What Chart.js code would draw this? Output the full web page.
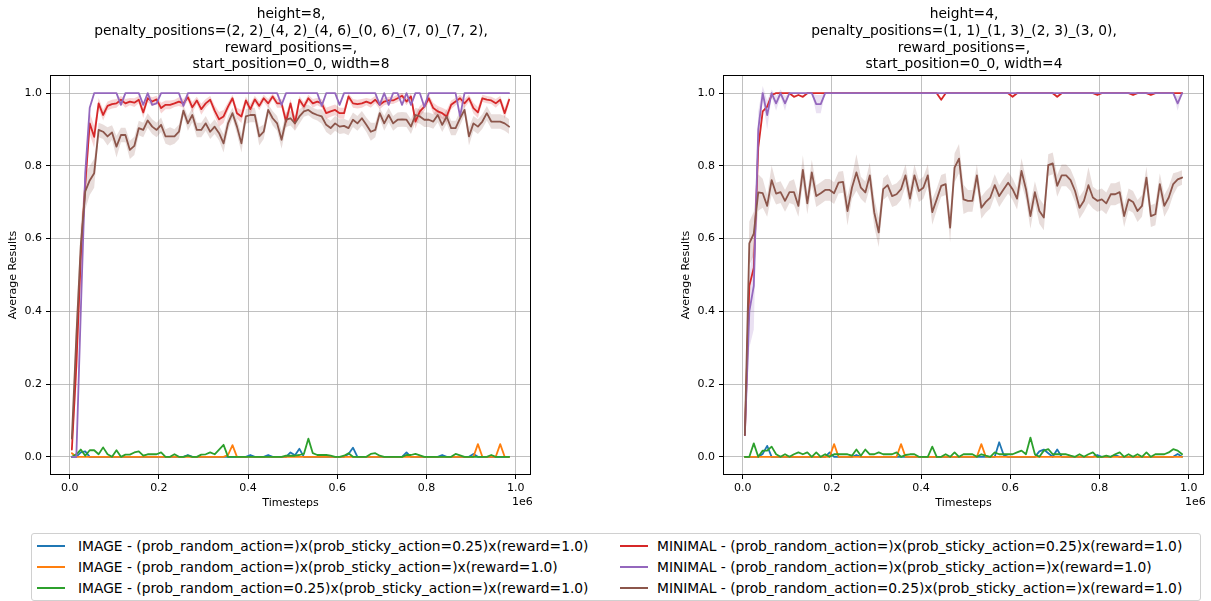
<!DOCTYPE html>
<html><head><meta charset="utf-8">
<script src="https://cdn.jsdelivr.net/npm/chart.js@4.4.1/dist/chart.umd.min.js"></script>
<style>
body{margin:0;width:1211px;height:601px;background:#fff;font-family:"DejaVu Sans",sans-serif;position:relative;overflow:hidden;color:#000}
canvas{position:absolute;top:0}
.title{position:absolute;top:5px;width:600px;text-align:center;font-size:13.8px;line-height:16.8px;white-space:pre}
.off{position:absolute;top:495px;font-size:11px}
.legend{position:absolute;left:31px;top:533px;width:1168px;height:66px;border:1px solid #d0d0d0;border-radius:3px;background:#fff}
.it{position:absolute;font-size:13.8px;white-space:pre;line-height:16px}
.sw{position:absolute;height:0;width:28px;border-top:2px solid}
</style></head><body>
<canvas id="cL" width="560" height="520" style="left:0"></canvas>
<canvas id="cR" width="538" height="520" style="left:673px"></canvas>
<div class="title" style="left:-9px">height=8,
penalty_positions=(2, 2)_(4, 2)_(4, 6)_(0, 6)_(7, 0)_(7, 2),
reward_positions=,
start_position=0_0, width=8</div>
<div class="title" style="left:664px">height=4,
penalty_positions=(1, 1)_(1, 3)_(2, 3)_(3, 0),
reward_positions=,
start_position=0_0, width=4</div>
<div class="off" style="left:512px">1e6</div>
<div class="off" style="left:1185px">1e6</div>
<div class="legend" id="legend"></div>
<script>
const timesteps = [5000,15000,25000,35000,45000,55000,65000,75000,85000,95000,
105000,115000,125000,135000,145000,155000,165000,175000,185000,195000,
205000,215000,225000,235000,245000,255000,265000,275000,285000,295000,
305000,315000,325000,335000,345000,355000,365000,375000,385000,395000,
405000,415000,425000,435000,445000,455000,465000,475000,485000,495000,
505000,515000,525000,535000,545000,555000,565000,575000,585000,595000,
605000,615000,625000,635000,645000,655000,665000,675000,685000,695000,
705000,715000,725000,735000,745000,755000,765000,775000,785000,795000,
805000,815000,825000,835000,845000,855000,865000,875000,885000,895000,
905000,915000,925000,935000,945000,955000,965000,975000,985000];

const seriesNames = [
 "IMAGE - (prob_random_action=)x(prob_sticky_action=0.25)x(reward=1.0)",
 "IMAGE - (prob_random_action=)x(prob_sticky_action=)x(reward=1.0)",
 "IMAGE - (prob_random_action=0.25)x(prob_sticky_action=)x(reward=1.0)",
 "MINIMAL - (prob_random_action=)x(prob_sticky_action=0.25)x(reward=1.0)",
 "MINIMAL - (prob_random_action=)x(prob_sticky_action=)x(reward=1.0)",
 "MINIMAL - (prob_random_action=0.25)x(prob_sticky_action=)x(reward=1.0)"
];
const seriesColors = ["#1f77b4","#ff7f0e","#2ca02c","#d62728","#9467bd","#8c564b"];
const bandColors = ["rgba(31,119,180,0.2)","rgba(255,127,14,0.2)","rgba(44,160,44,0.2)","rgba(214,39,40,0.2)","rgba(148,103,189,0.2)","rgba(140,86,75,0.2)"];

const yTicks = [0,0.2,0.4,0.6,0.8,1.0];
const xTicks = [0,200000,400000,600000,800000,1000000];
const xTickLabels = ["0.0","0.2","0.4","0.6","0.8","1.0"];

/* ---- left panel (8x8) ---- */
const leftImgSticky = [0,0,0.012,0.015,0,0,0,0,0,0,
0,0,0,0,0,0,0,0,0,0,
0,0,0,0,0,0,0.005,0,0,0,
0,0,0,0,0,0,0,0,0,0,
0.005,0,0,0,0.005,0,0,0,0,0.012,
0.004,0.022,0,0,0,0,0,0,0,0,
0,0,0.008,0.025,0,0,0,0,0,0,
0,0,0,0,0,0.012,0,0,0,0,
0,0,0,0.005,0,0,0,0,0,0,
0.008,0,0,0,0,0,0,0,0];
const leftImgBase = [0.01,0,0,0,0,0,0,0,0,0,
0,0,0,0,0,0,0,0,0,0,
0,0,0,0,0,0,0,0,0,0,
0,0,0,0,0,0.005,0.032,0,0,0,
0,0,0,0,0,0,0,0,0,0,
0,0,0,0,0,0,0,0,0,0,
0,0,0,0,0,0,0,0,0,0,
0,0,0,0,0,0,0,0,0,0,
0,0,0,0,0,0,0,0,0,0,
0,0.035,0,0,0,0,0.035,0,0];
const leftImgRandom = [0,0.007,0.02,0.003,0.018,0.018,0.007,0.026,0.007,0,
0.018,0,0.006,0.006,0.012,0.015,0.003,0.007,0.007,0.007,
0.012,0,0,0.007,0,0,0.003,0,0,0.006,
0.007,0.012,0.007,0.02,0.033,0,0,0,0,0,
0,0,0,0,0,0,0,0,0.003,0.003,
0.003,0.005,0.008,0.05,0.01,0.005,0.005,0.005,0.003,0,
0,0.003,0.01,0,0,0,0,0.008,0.01,0.003,
0,0,0,0,0,0.005,0.005,0.008,0.004,0,
0,0,0,0,0,0,0.008,0.004,0,0,
0,0,0,0,0.005,0,0,0,0];
const leftMinSticky = [0.02,0.25,0.55,0.75,0.917,0.88,0.972,0.94,0.965,0.97,
0.972,0.982,0.972,0.977,0.974,0.982,0.947,0.986,0.977,0.983,
0.959,0.968,0.968,0.972,0.977,0.972,0.989,0.961,0.98,0.956,
0.972,0.982,0.952,0.928,0.936,0.963,0.986,0.945,0.936,0.98,
0.956,0.983,0.965,0.986,0.972,0.991,0.972,0.972,0.922,0.972,
0.917,0.982,0.963,0.986,0.972,0.977,0.972,0.945,0.95,0.954,
0.945,0.945,0.991,0.972,0.97,0.972,0.977,0.972,0.982,0.968,
0.977,0.98,0.98,0.986,0.993,0.977,0.991,0.922,0.95,0.963,
0.986,0.959,0.95,0.945,0.936,0.968,0.977,0.986,0.972,0.986,
0.959,0.947,0.986,0.982,0.98,0.972,0.982,0.945,0.982];
const leftMinBase = [0,0,0.4,0.78,0.96,1,1,1,1,1,
1,0.968,1,1,1,1,0.968,1,0.968,0.972,
1,1,1,1,1,0.965,1,1,1,1,
1,1,1,1,1,1,1,1,1,1,
1,1,1,1,1,1,1,0.968,1,1,
1,1,1,1,1,1,0.965,1,1,1,
0.968,1,1,1,1,1,1,1,1,0.968,
1,0.968,1,1,0.968,1,0.968,1,1,0.962,
1,1,1,1,1,1,1,0.936,1,1,
1,1,1,1,1,1,1,1,1];
const leftMinRandom = [0.05,0.33,0.58,0.73,0.76,0.78,0.899,0.894,0.881,0.892,
0.853,0.885,0.885,0.844,0.855,0.904,0.899,0.925,0.908,0.899,
0.913,0.881,0.881,0.881,0.894,0.952,0.917,0.94,0.899,0.899,
0.917,0.894,0.908,0.89,0.862,0.917,0.945,0.908,0.862,0.936,
0.94,0.94,0.881,0.894,0.954,0.931,0.917,0.872,0.927,0.931,
0.917,0.936,0.95,0.954,0.945,0.94,0.936,0.913,0.904,0.917,
0.908,0.91,0.904,0.927,0.917,0.931,0.913,0.894,0.899,0.945,
0.917,0.94,0.917,0.927,0.928,0.927,0.908,0.94,0.936,0.927,
0.927,0.922,0.94,0.913,0.936,0.904,0.904,0.931,0.954,0.881,
0.917,0.908,0.922,0.945,0.922,0.922,0.922,0.917,0.908];
const leftMinStickySpread = [0.01,0.06,0.06,0.05,0.03,0.03,0.015,0.015,0.012,0.012,
0.012,0.01,0.012,0.01,0.012,0.01,0.015,0.01,0.012,0.01,
0.015,0.012,0.012,0.01,0.012,0.012,0.01,0.015,0.01,0.015,
0.012,0.01,0.015,0.02,0.018,0.012,0.01,0.015,0.018,0.01,
0.015,0.01,0.012,0.01,0.012,0.008,0.012,0.012,0.02,0.012,
0.02,0.01,0.012,0.01,0.012,0.01,0.012,0.015,0.015,0.015,
0.015,0.015,0.008,0.012,0.012,0.012,0.01,0.012,0.01,0.012,
0.01,0.01,0.01,0.01,0.008,0.01,0.008,0.02,0.015,0.012,
0.01,0.015,0.015,0.015,0.018,0.012,0.01,0.01,0.012,0.01,
0.015,0.015,0.01,0.01,0.01,0.012,0.01,0.015,0.01];
const leftMinRandomSpread = [0.02,0.05,0.06,0.05,0.04,0.04,0.02,0.02,0.025,0.02,
0.03,0.02,0.02,0.025,0.025,0.02,0.02,0.02,0.02,0.02,
0.02,0.02,0.025,0.02,0.02,0.015,0.02,0.02,0.02,0.02,
0.02,0.02,0.02,0.02,0.025,0.02,0.015,0.02,0.025,0.02,
0.02,0.02,0.025,0.02,0.015,0.02,0.02,0.025,0.02,0.02,
0.02,0.02,0.015,0.015,0.015,0.015,0.02,0.02,0.02,0.02,
0.02,0.02,0.02,0.02,0.02,0.02,0.02,0.025,0.02,0.015,
0.02,0.02,0.02,0.02,0.02,0.02,0.02,0.02,0.02,0.02,
0.02,0.02,0.02,0.02,0.02,0.02,0.02,0.02,0.015,0.025,
0.02,0.02,0.02,0.02,0.02,0.02,0.02,0.02,0.02];

/* ---- right panel (4x4) ---- */
const rightImgSticky = [0,0,0,0,0.008,0.03,0,0,0,0,
0,0,0,0,0,0,0,0,0,0.012,
0,0,0,0,0,0.005,0,0,0,0,
0,0,0,0,0,0,0,0,0,0,
0,0,0,0,0,0,0,0,0,0,
0,0,0,0,0,0,0,0.04,0.005,0,
0,0,0,0,0,0,0.015,0.02,0.01,0,
0.02,0,0,0,0,0,0,0,0,0.005,
0,0,0,0.005,0,0,0,0,0,0,
0,0,0,0,0,0,0,0.008,0];
const rightImgBase = [0,0,0,0,0,0,0,0,0,0,
0,0,0,0,0,0,0,0,0,0,
0.035,0,0,0,0,0,0,0,0,0,
0,0,0,0,0,0.035,0,0,0,0,
0,0,0,0,0,0,0,0,0,0,
0,0,0,0.035,0,0,0,0,0,0,
0,0,0,0,0,0,0,0,0,0,
0,0,0,0,0,0,0,0,0,0,
0,0,0,0,0,0,0,0,0,0,
0,0,0,0,0,0,0,0,0];
const rightImgRandom = [0,0,0.037,0,0.017,0.017,0.028,0.007,0,0.007,
0,0.007,0.012,0.007,0.012,0,0.012,0,0.007,0,
0.007,0.007,0.007,0.007,0.003,0.02,0.003,0.02,0.007,0.007,
0.012,0.007,0.007,0.007,0.012,0,0.005,0.007,0.007,0,
0,0,0.028,0,0,0.007,0,0.012,0,0.007,
0.007,0.007,0,0.007,0.003,0,0.012,0.007,0.007,0.007,
0.007,0.012,0.017,0.007,0.053,0.007,0,0.017,0.021,0.007,
0.007,0.007,0.007,0.003,0,0.007,0,0.007,0.012,0,
0,0.003,0,0.007,0.012,0,0.007,0,0.007,0,
0.012,0,0.007,0.007,0.007,0.012,0.021,0.017,0.007];
const rightMinSticky = [0.06,0.47,0.52,0.85,0.95,0.963,0.995,1,1,1,
1,0.99,0.995,0.99,1,1,1,1,1,1,
1,1,1,1,1,1,1,1,1,1,
1,1,1,1,1,1,1,1,1,1,
1,1,1,1,0.982,1,1,1,1,1,
1,1,1,1,1,1,1,1,1,1,
0.99,1,1,1,1,1,1,1,1,1,
0.99,1,1,1,1,1,1,1,1,0.995,
1,1,1,1,1,1,1,0.995,1,1,
1,0.995,1,1,1,1,1,1,1];
const rightMinBase = [0.06,0.4,0.47,0.9,1,0.94,1,0.972,1,0.972,
1,1,1,1,1,1,0.97,0.97,1,1,
1,1,1,1,1,1,1,1,1,1,
1,1,1,1,1,1,1,1,1,1,
1,1,1,1,1,1,1,1,1,1,
1,1,1,1,1,1,1,1,1,1,
1,1,1,1,1,1,1,1,1,1,
1,1,1,1,1,1,1,1,1,1,
1,1,1,1,1,1,1,1,1,1,
1,1,1,1,1,1,1,0.972,1];
const rightMinRandom = [0.06,0.587,0.614,0.727,0.725,0.69,0.761,0.724,0.728,0.704,
0.728,0.728,0.69,0.789,0.697,0.782,0.717,0.725,0.734,0.734,
0.725,0.754,0.756,0.676,0.74,0.782,0.74,0.727,0.774,0.672,
0.617,0.736,0.747,0.717,0.722,0.736,0.774,0.71,0.774,0.731,
0.74,0.774,0.673,0.708,0.745,0.75,0.63,0.795,0.82,0.708,
0.704,0.704,0.774,0.685,0.701,0.713,0.747,0.717,0.736,0.754,
0.736,0.71,0.786,0.736,0.662,0.728,0.676,0.658,0.802,0.807,
0.745,0.774,0.774,0.761,0.731,0.685,0.704,0.747,0.713,0.704,
0.708,0.697,0.722,0.722,0.728,0.662,0.708,0.701,0.676,0.69,
0.768,0.662,0.667,0.75,0.69,0.713,0.75,0.763,0.768];
const rightMinBaseSpread = [0.02,0.1,0.12,0.05,0.02,0.04,0.01,0.02,0.01,0.02,
0,0,0,0,0,0,0.025,0.025,0,0,
0,0,0,0,0,0,0,0,0,0,
0,0,0,0,0,0,0,0,0,0,
0,0,0,0,0,0,0,0,0,0,
0,0,0,0,0,0,0,0,0,0,
0,0,0,0,0,0,0,0,0,0,
0,0,0,0,0,0,0,0,0,0,
0,0,0,0,0,0,0,0,0,0,
0,0,0,0,0,0,0,0.02,0];
const rightMinRandomSpread = [0.02,0.06,0.06,0.05,0.04,0.03,0.04,0.03,0.03,0.03,
0.03,0.035,0.03,0.04,0.03,0.035,0.03,0.03,0.03,0.03,
0.03,0.03,0.03,0.04,0.03,0.05,0.03,0.03,0.035,0.04,
0.04,0.03,0.03,0.03,0.03,0.03,0.03,0.03,0.03,0.03,
0.03,0.03,0.035,0.03,0.03,0.03,0.04,0.04,0.04,0.04,
0.03,0.03,0.03,0.03,0.03,0.03,0.03,0.03,0.03,0.03,
0.03,0.03,0.035,0.03,0.035,0.03,0.035,0.035,0.03,0.03,
0.03,0.03,0.03,0.03,0.03,0.03,0.03,0.05,0.03,0.03,
0.03,0.03,0.03,0.03,0.03,0.03,0.03,0.03,0.03,0.03,
0.03,0.03,0.03,0.03,0.03,0.03,0.03,0.02,0.02];

function pts(vals, sign, spread) {
  return timesteps.map((t, i) => ({x: t, y: vals[i] + sign * (spread ? spread[i] : 0)}));
}

function buildDatasets(series, spreads) {
  const ds = [];
  series.forEach((vals, k) => {
    if (!spreads[k]) return;
    ds.push({data: pts(vals, 1, spreads[k]), borderWidth: 0, pointRadius: 0, fill: '+1',
             backgroundColor: bandColors[k], order: 20 + (6 - k), tension: 0});
    ds.push({data: pts(vals, -1, spreads[k]), borderWidth: 0, pointRadius: 0, fill: false,
             backgroundColor: bandColors[k], order: 20 + (6 - k), tension: 0});
  });
  series.forEach((vals, k) => {
    ds.push({label: seriesNames[k], data: pts(vals, 0, null), borderColor: seriesColors[k],
             backgroundColor: seriesColors[k], borderWidth: 1.8, pointRadius: 0, fill: false,
             tension: 0, borderJoinStyle: 'round', borderCapStyle: 'round', order: 6 - k});
  });
  return ds;
}

const boxPlugin = {
  id: 'box',
  afterDraw(chart) {
    const a = chart.chartArea, c = chart.ctx;
    c.save(); c.strokeStyle = '#000'; c.lineWidth = 1;
    c.strokeRect(Math.round(a.left) + 0.5, Math.round(a.top) + 0.5,
                 Math.round(a.right - a.left) - 1, Math.round(a.bottom - a.top) - 1);
    c.restore();
  }
};

function makeChart(id, series, spreads, padRight) {
  const font = {family: "'DejaVu Sans', sans-serif", size: 11};
  const labFont = {family: "'DejaVu Sans', sans-serif", size: 11};
  return new Chart(document.getElementById(id), {
    type: 'line',
    data: {datasets: buildDatasets(series, spreads)},
    plugins: [boxPlugin],
    options: {
      responsive: false, animation: false, devicePixelRatio: 1,
      layout: {padding: {left: 0, right: padRight, top: 75, bottom: 5}},
      plugins: {legend: {display: false}, tooltip: {enabled: false}, title: {display: false}},
      scales: {
        x: {
          type: 'linear', min: -44000, max: 1034000,
          afterBuildTicks: s => { s.ticks = xTicks.map(v => ({value: v})); },
          afterFit: s => { s.height = 40; },
          ticks: {callback: (v, i) => xTickLabels[i], color: '#000', font: font, padding: 3,
                  maxRotation: 0, autoSkip: false},
          grid: {color: '#b0b0b0', lineWidth: 0.8, tickColor: '#000', tickLength: 4, tickWidth: 1},
          border: {display: false},
          title: {display: true, text: 'Timesteps', color: '#000', font: labFont, padding: {top: 0, bottom: 5}}
        },
        y: {
          type: 'linear', min: -0.05, max: 1.05,
          afterBuildTicks: s => { s.ticks = yTicks.map(v => ({value: v})); },
          afterFit: s => { s.width = 50; },
          ticks: {callback: v => v.toFixed(1), color: '#000', font: font, padding: 4, autoSkip: false},
          grid: {color: '#b0b0b0', lineWidth: 0.8, tickColor: '#000', tickLength: 4, tickWidth: 1},
          border: {display: false},
          title: {display: true, text: 'Average Results', color: '#000', font: labFont, padding: {top: 7, bottom: 0}}
        }
      }
    }
  });
}

makeChart('cL', [leftImgSticky, leftImgBase, leftImgRandom, leftMinSticky, leftMinBase, leftMinRandom],
          [null, null, null, leftMinStickySpread, null, leftMinRandomSpread], 29);
makeChart('cR', [rightImgSticky, rightImgBase, rightImgRandom, rightMinSticky, rightMinBase, rightMinRandom],
          [null, null, null, null, rightMinBaseSpread, rightMinRandomSpread], 7);

const leg = document.getElementById('legend');
const colX = [[5, 46], [588, 625]];
const rowY = [12, 33, 54];
seriesNames.forEach((name, k) => {
  const col = Math.floor(k / 3), row = k % 3;
  const sw = document.createElement('div');
  sw.className = 'sw'; sw.style.borderTopColor = seriesColors[k];
  sw.style.left = colX[col][0] + 'px'; sw.style.top = (rowY[row] - 1) + 'px';
  leg.appendChild(sw);
  const tx = document.createElement('div');
  tx.className = 'it'; tx.textContent = name;
  tx.style.left = colX[col][1] + 'px'; tx.style.top = (rowY[row] - 8) + 'px';
  leg.appendChild(tx);
});
</script>
</body></html>
